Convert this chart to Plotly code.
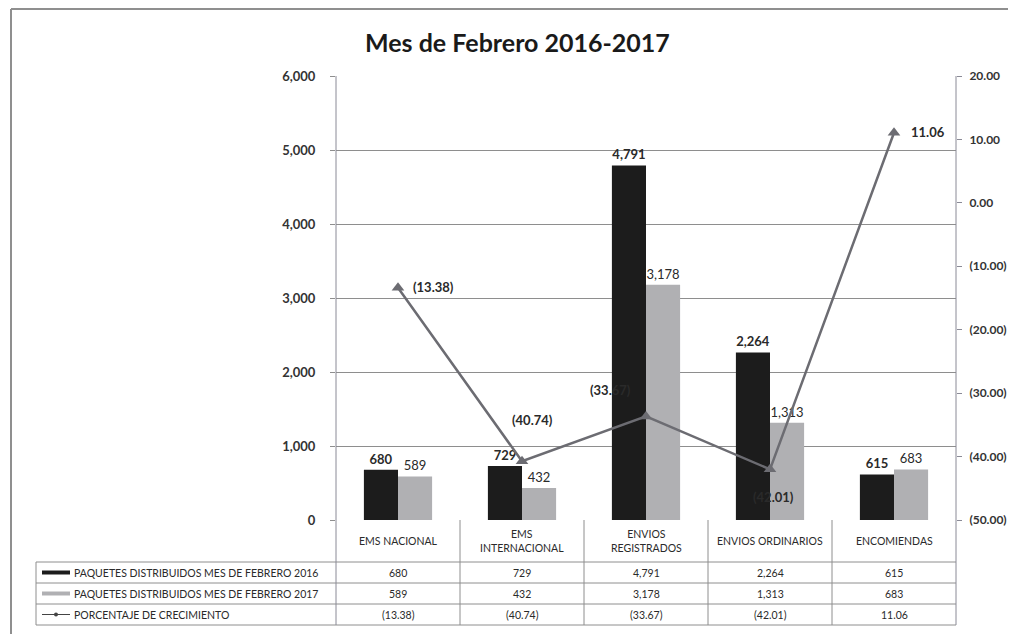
import plotly.graph_objects as go

# ---------------- data ----------------
categories = ["EMS NACIONAL", "EMS INTERNACIONAL", "ENVIOS REGISTRADOS", "ENVIOS ORDINARIOS", "ENCOMIENDAS"]
category_labels = ["EMS NACIONAL", "EMS<br>INTERNACIONAL", "ENVIOS<br>REGISTRADOS", "ENVIOS ORDINARIOS", "ENCOMIENDAS"]
paquetes_2016 = [680, 729, 4791, 2264, 615]
paquetes_2017 = [589, 432, 3178, 1313, 683]
crecimiento = [-13.38, -40.74, -33.67, -42.01, 11.06]
series_names = ["PAQUETES DISTRIBUIDOS MES DE FEBRERO 2016",
                "PAQUETES DISTRIBUIDOS MES DE FEBRERO 2017",
                "PORCENTAJE DE CRECIMIENTO"]
left_ticks = [0, 1000, 2000, 3000, 4000, 5000, 6000]
right_ticks = [-50, -40, -30, -20, -10, 0, 10, 20]
right_tick_labels = ["(50.00)", "(40.00)", "(30.00)", "(20.00)", "(10.00)", "0.00", "10.00", "20.00"]
title_text = "Mes de Febrero 2016-2017"


def fmt_pct(v):
    return f"({abs(v):.2f})" if v < 0 else f"{v:.2f}"


# ---------------- layout constants (screen pixels) ----------------
OFF = 8                      # page body margin of the html page
SW, SH = 1016, 634           # screen size
W, H = SW - OFF, SH - OFF    # figure size
PL, PR, PT, PB = 336, 956, 76, 520   # plot area on screen
L, R, T, B = PL - OFF, SW - PR, PT - OFF, SH - PB
PW, PH = PR - PL, PB - PT
FONT = "Lato"
BLACK = "#1c1c1c"
GRAY = "#b0b0b3"
LINEC = "#6c6c72"
GRID = "#8e8e8e"
TXT = "#2a2a2a"


def px(x):  # screen pixel x -> paper x
    return (x - PL) / PW


def py(y):  # screen pixel y -> paper y
    return (PB - y) / PH


fig = go.Figure()

fig.add_trace(go.Bar(
    x=categories, y=paquetes_2016, name=series_names[0],
    marker=dict(color=BLACK, line=dict(width=0)),
    text=[f"{v:,}" for v in paquetes_2016], textposition="outside",
    textfont=dict(family=FONT, size=13, color=TXT, weight="bold"),
    cliponaxis=False,
))
fig.add_trace(go.Bar(
    x=categories, y=paquetes_2017, name=series_names[1],
    marker=dict(color=GRAY, line=dict(width=0)),
    text=[f"{v:,}" for v in paquetes_2017], textposition="outside",
    textfont=dict(family=FONT, size=13, color=TXT),
    cliponaxis=False,
))
fig.add_trace(go.Scatter(
    x=categories, y=crecimiento, yaxis="y2", name=series_names[2],
    mode="lines+markers",
    line=dict(color=LINEC, width=2.5),
    marker=dict(symbol="triangle-up", size=11, color=LINEC),
    cliponaxis=False,
))

annotations = []
shapes = []

# percentage labels
label_offsets = [  # (xanchor, xshift, yshift)
    ("left", 13, 1),
    ("center", 10, 41),
    ("center", -36, 26),
    ("center", 3, -28),
    ("left", 15, 1),
]
for cat, v, (xa, xs, ys) in zip(categories, crecimiento, label_offsets):
    annotations.append(dict(
        x=cat, y=v, xref="x", yref="y2", text=fmt_pct(v), showarrow=False,
        xanchor=xa, yanchor="middle", xshift=xs, yshift=ys,
        font=dict(family=FONT, size=13, color=TXT, weight="bold"),
    ))

# ---------------- data table ----------------
row_lines = [562, 583, 604, 625]
row_centers = [572.5, 593.5, 614.5]
cat_center = 541
TFS = 10.5

for cat, lab in zip(categories, category_labels):
    annotations.append(dict(
        x=cat, y=py(cat_center), xref="x", yref="paper", text=lab, showarrow=False,
        xanchor="center", yanchor="middle",
        font=dict(family=FONT, size=TFS, color=TXT),
    ))
rows = [
    [f"{v:,}" for v in paquetes_2016],
    [f"{v:,}" for v in paquetes_2017],
    [fmt_pct(v) for v in crecimiento],
]
for r, vals in enumerate(rows):
    for cat, t in zip(categories, vals):
        annotations.append(dict(
            x=cat, y=py(row_centers[r]), xref="x", yref="paper", text=t, showarrow=False,
            xanchor="center", yanchor="middle",
            font=dict(family=FONT, size=TFS, color=TXT),
        ))
    annotations.append(dict(
        x=px(72), y=py(row_centers[r]), xref="paper", yref="paper", text=series_names[r],
        showarrow=False, xanchor="left", yanchor="middle",
        font=dict(family=FONT, size=TFS, color=TXT),
    ))

# table horizontal lines
for yl in row_lines:
    shapes.append(dict(type="line", xref="paper", yref="paper",
                       x0=px(36), x1=1, y0=py(yl), y1=py(yl),
                       line=dict(color=GRID, width=1)))
# label column left border
shapes.append(dict(type="line", xref="paper", yref="paper",
                   x0=px(36), x1=px(36), y0=py(row_lines[0]), y1=py(row_lines[-1]),
                   line=dict(color=GRID, width=1)))
# column dividers (category boundaries on the x axis scale)
for i in range(len(categories) - 1):
    shapes.append(dict(type="line", xref="x", yref="paper",
                       x0=i + 0.5, x1=i + 0.5, y0=0, y1=py(row_lines[-1]),
                       line=dict(color=GRID, width=1)))
# left and right axis lines extended through table
for xp in (0, 1):
    shapes.append(dict(type="line", xref="paper", yref="paper",
                       x0=xp, x1=xp, y0=1, y1=py(row_lines[-1]),
                       line=dict(color="#8a8a96", width=1)))

# legend keys in table
shapes.append(dict(type="line", xref="paper", yref="paper",
                   x0=px(42), x1=px(70), y0=py(row_centers[0]), y1=py(row_centers[0]),
                   line=dict(color=BLACK, width=4)))
shapes.append(dict(type="line", xref="paper", yref="paper",
                   x0=px(42), x1=px(70), y0=py(row_centers[1]), y1=py(row_centers[1]),
                   line=dict(color=GRAY, width=4)))
shapes.append(dict(type="line", xref="paper", yref="paper",
                   x0=px(42), x1=px(70), y0=py(row_centers[2]), y1=py(row_centers[2]),
                   line=dict(color="#444", width=1)))
shapes.append(dict(type="circle", xref="paper", yref="paper",
                   x0=px(54), x1=px(58), y0=py(row_centers[2] + 2), y1=py(row_centers[2] - 2),
                   fillcolor="#444", line=dict(color="#444", width=0)))

# outer frame (left and top edges)
shapes.append(dict(type="line", xref="paper", yref="paper",
                   x0=px(11), x1=px(1030), y0=py(9), y1=py(9),
                   line=dict(color="#8f8f8f", width=2)))
shapes.append(dict(type="line", xref="paper", yref="paper",
                   x0=px(11), x1=px(11), y0=py(9), y1=py(650),
                   line=dict(color="#8f8f8f", width=2)))

annotations.append(dict(
    x=px(517), y=py(42), xref="paper", yref="paper", text=title_text, showarrow=False,
    xanchor="center", yanchor="middle",
    font=dict(family=FONT, size=25, color="#1a1a1a", weight="bold"),
))

fig.update_layout(
    width=W, height=H,
    margin=dict(l=L, r=R, t=T, b=B, autoexpand=False),
    paper_bgcolor="white", plot_bgcolor="white",
    barmode="group", bargap=0.45, bargroupgap=0,
    showlegend=False,
    xaxis=dict(type="category", range=[-0.5, 4.5], showticklabels=False, ticks="",
               showgrid=False, zeroline=False, showline=False, automargin=False),
    yaxis=dict(range=[0, 6000], tickvals=left_ticks, tickformat=",",
               showgrid=True, gridcolor=GRID, gridwidth=1, zeroline=False,
               showline=False, ticks="outside", ticklen=5, tickcolor=GRID,
               ticklabelstandoff=12, automargin=False,
               tickfont=dict(family=FONT, size=13, color="#333", weight="bold")),
    yaxis2=dict(range=[-50, 20], tickvals=right_ticks, ticktext=right_tick_labels,
                overlaying="y", side="right", showgrid=False, zeroline=False,
                showline=False, ticks="outside", ticklen=5, tickcolor="#8a8a96",
                ticklabelstandoff=5, automargin=False,
                tickfont=dict(family=FONT, size=12, color="#333", weight="bold")),
    annotations=annotations,
    shapes=shapes,
)

fig.write_html("out.html")
